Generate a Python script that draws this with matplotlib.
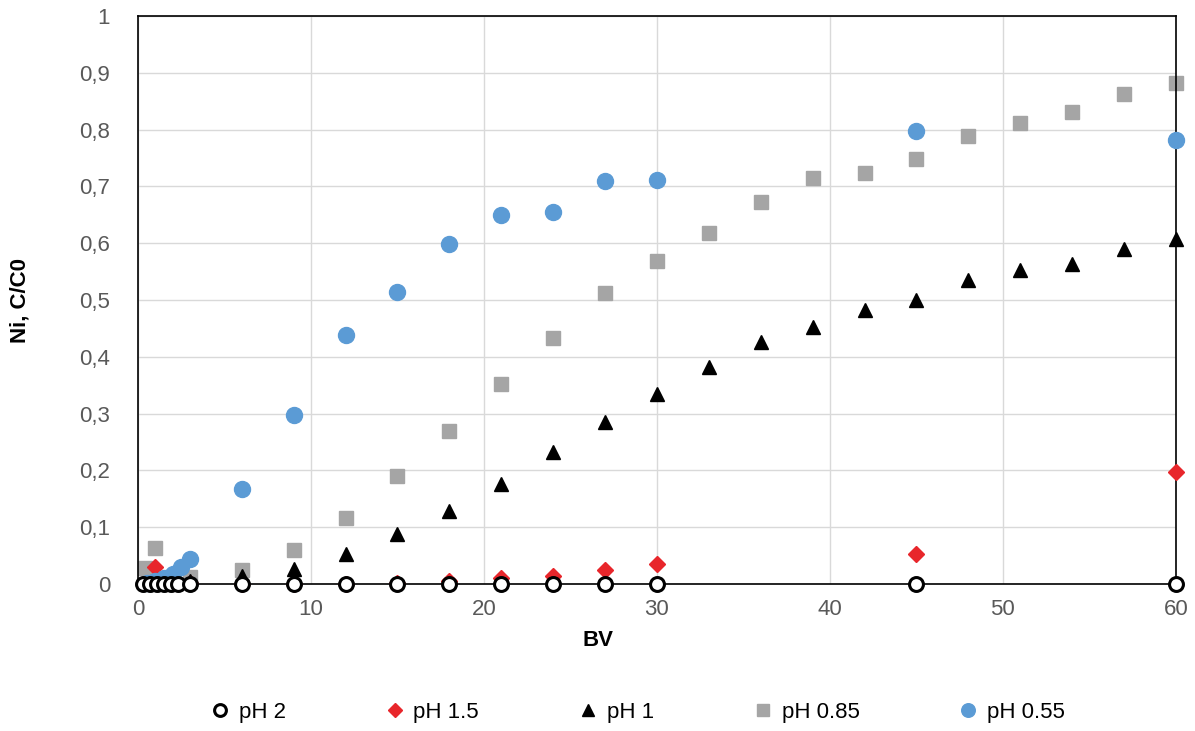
import matplotlib
matplotlib.use('agg')
import matplotlib.pyplot as plt
from matplotlib.ticker import FuncFormatter, MultipleLocator
from matplotlib.lines import Line2D

plt.rcParams['font.family'] = ['Liberation Sans', 'DejaVu Sans']

# pH 2
bv_ph2 = [0.3, 0.7, 1.1, 1.5, 1.9, 2.3, 3, 6, 9, 12, 15, 18, 21, 24, 27, 30, 45, 60]
c_ph2 = [0] * len(bv_ph2)

# pH 1.5
bv_ph15 = [1, 3, 6, 9, 12, 15, 18, 21, 24, 27, 30, 45, 60]
c_ph15 = [0.03, 0.002, 0.0, 0.0, 0.0, 0.002, 0.005, 0.01, 0.015, 0.025, 0.035, 0.053, 0.197]

# pH 1
bv_ph1 = [3, 6, 9, 12, 15, 18, 21, 24, 27, 30, 33, 36, 39, 42, 45, 48, 51, 54, 57, 60]
c_ph1 = [0.006, 0.015, 0.027, 0.053, 0.088, 0.128, 0.177, 0.232, 0.285, 0.335, 0.383,
         0.427, 0.453, 0.483, 0.500, 0.535, 0.553, 0.563, 0.590, 0.608]

# pH 0.85
bv_ph085 = [0.4, 1, 3, 6, 9, 12, 15, 18, 21, 24, 27, 30, 33, 36, 39, 42, 45, 48, 51, 54, 57, 60]
c_ph085 = [0.028, 0.063, 0.012, 0.025, 0.06, 0.117, 0.19, 0.27, 0.352, 0.433, 0.512, 0.568,
           0.618, 0.672, 0.715, 0.723, 0.748, 0.788, 0.812, 0.832, 0.863, 0.882]

# pH 0.55
bv_ph055 = [0.5, 1, 1.5, 2, 2.5, 3, 6, 9, 12, 15, 18, 21, 24, 27, 30, 45, 60]
c_ph055 = [0.002, 0.005, 0.01, 0.018, 0.03, 0.045, 0.167, 0.297, 0.438, 0.514, 0.598,
           0.65, 0.655, 0.71, 0.712, 0.797, 0.782]

series = [
    (bv_ph2, c_ph2, 'pH 2', dict(marker='o', ms=10, mfc='white', mec='black', mew=2.2), 6),
    (bv_ph15, c_ph15, 'pH 1.5', dict(marker='D', ms=8, color='#E8262B'), 3),
    (bv_ph1, c_ph1, 'pH 1', dict(marker='^', ms=10.5, color='black'), 4),
    (bv_ph085, c_ph085, 'pH 0.85', dict(marker='s', ms=10.5, color='#A5A5A5'), 2),
    (bv_ph055, c_ph055, 'pH 0.55', dict(marker='o', ms=11.5, color='#5B9BD5'), 5),
]

fig = plt.figure(figsize=(11.95, 7.31), dpi=100)
ax = fig.add_axes([0.1155, 0.201, 0.8685, 0.777])

handles = []
for x, y, name, st, z in series:
    ax.plot(x, y, ls='none', clip_on=False, zorder=z, **st)
    lst = dict(st)
    lst['ms'] = st['ms'] * 0.85
    if 'mew' in lst:
        lst['mew'] = 2.2
    handles.append(Line2D([], [], ls='none', label=name, **lst))

ax.set_xlim(0, 60)
ax.set_ylim(0, 1)
ax.xaxis.set_major_locator(MultipleLocator(10))
ax.yaxis.set_major_locator(MultipleLocator(0.1))


def fmt(v, pos):
    if abs(v) < 1e-9:
        return '0'
    if abs(v - 1) < 1e-9:
        return '1'
    return ('%.1f' % v).replace('.', ',')


ax.yaxis.set_major_formatter(FuncFormatter(fmt))
ax.grid(True, color='#D9D9D9', lw=1)
ax.set_axisbelow(True)
for s in ax.spines.values():
    s.set_color('black')
    s.set_linewidth(1.2)
ax.tick_params(length=0, labelsize=16, labelcolor='#595959')
ax.tick_params(axis='y', pad=20)
ax.tick_params(axis='x', pad=11)

ax.set_xlabel('BV', fontsize=16, fontweight='bold')
ax.xaxis.set_label_coords(0.443, -0.081)
ax.set_ylabel('Ni, C/C0', fontsize=16, fontweight='bold')
ax.yaxis.set_label_coords(-0.104, 0.5)

fig.legend(handles=handles, loc='center', bbox_to_anchor=(0.533, 0.025), ncol=5, frameon=False,
           fontsize=16, handletextpad=0.35, handlelength=1.0, columnspacing=4.4)

plt.savefig('out.png', dpi=100)
